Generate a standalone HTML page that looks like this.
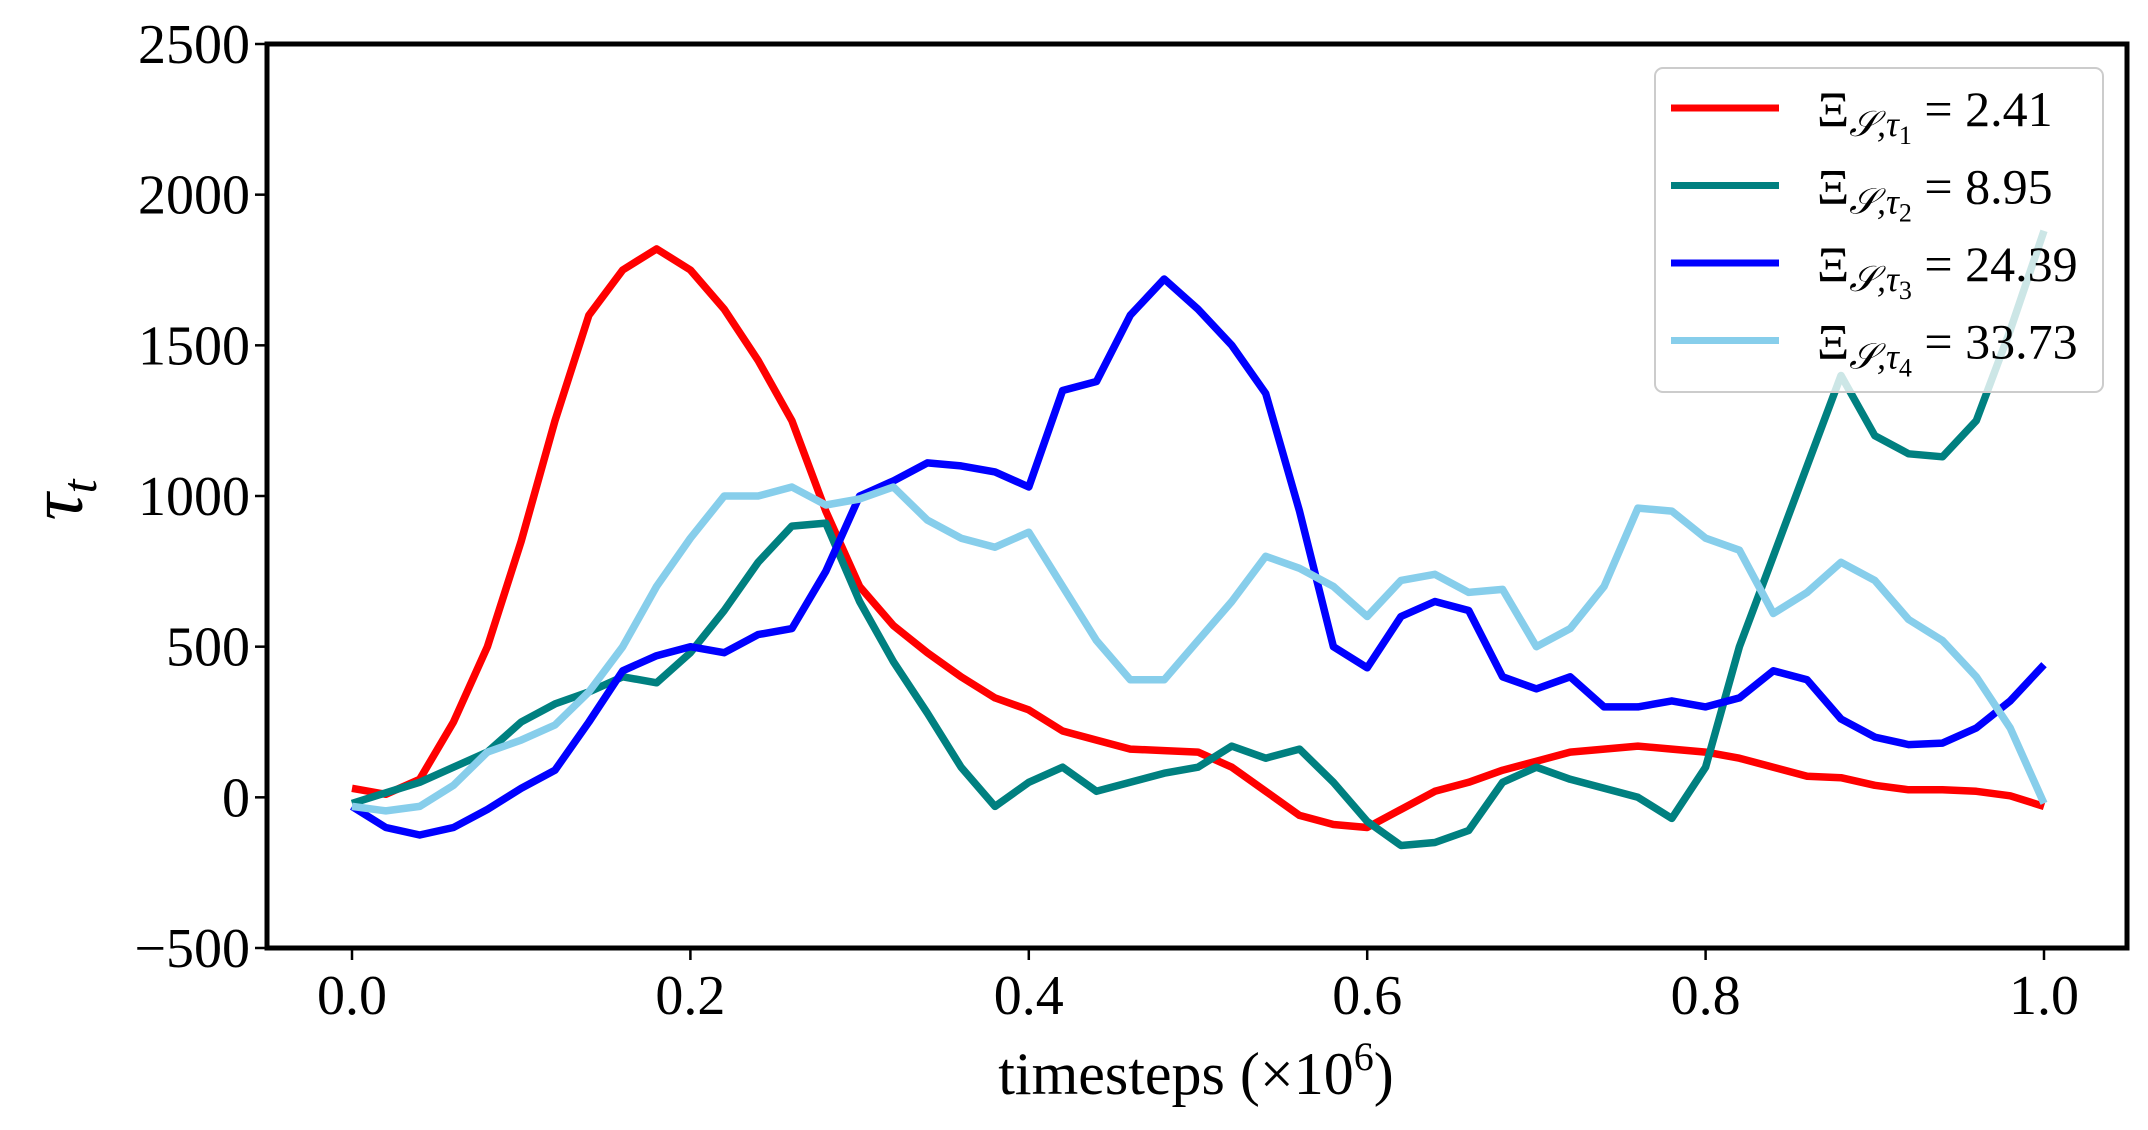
<!DOCTYPE html>
<html><head><meta charset="utf-8"><style>
html,body{margin:0;padding:0;background:#fff;}
svg{display:block;font-family:"Liberation Serif",serif;}
</style></head><body>
<svg id="chart" width="2148" height="1130" viewBox="0 0 2148 1130" xmlns="http://www.w3.org/2000/svg">
<rect x="0" y="0" width="2148" height="1130" fill="#fff"/>
<g id="series"></g>
<rect x="267" y="44" width="1860" height="904" fill="none" stroke="#000" stroke-width="5"/>
<g id="ticks"></g>
<text x="1196" y="1094" font-size="60" text-anchor="middle">timesteps (×10<tspan font-size="40" dy="-24">6</tspan><tspan dy="24">)</tspan></text>
<text x="0" y="0" font-size="76" font-style="italic" text-anchor="middle" transform="translate(82,500) rotate(-90)">τ<tspan font-size="50" dy="14">t</tspan></text>
<g id="legend">
<rect x="1655" y="68" width="448" height="324" rx="8" fill="#fff" fill-opacity="0.8" stroke="#ccc" stroke-width="2"/>
</g>
</svg>
<script>
const tVals=[0,0.02,0.04,0.06,0.08,0.1,0.12,0.14,0.16,0.18,0.2,0.22,0.24,0.26,0.28,0.3,0.32,0.34,0.36,0.38,0.4,0.42,0.44,0.46,0.48,0.5,0.52,0.54,0.56,0.58,0.6,0.62,0.64,0.66,0.68,0.7,0.72,0.74,0.76,0.78,0.8,0.82,0.84,0.86,0.88,0.9,0.92,0.94,0.96,0.98,1.0];
const redVals=[30,10,60,250,500,850,1250,1600,1750,1820,1750,1620,1450,1250,950,700,570,480,400,330,290,220,190,160,155,150,100,20,-60,-90,-100,-40,20,50,90,120,150,160,170,160,150,130,100,70,65,40,25,25,20,5,-30];
const tealVals=[-20,15,50,100,150,250,310,350,400,380,480,620,780,900,910,650,450,280,100,-30,50,100,20,50,80,100,170,130,160,50,-80,-160,-150,-110,50,100,60,30,0,-70,100,500,800,1100,1400,1200,1140,1130,1250,1550,1880];
const blueVals=[-30,-100,-125,-100,-40,30,90,250,420,470,500,480,540,560,750,1000,1050,1110,1100,1080,1030,1350,1380,1600,1720,1620,1500,1340,950,500,430,600,650,620,400,360,400,300,300,320,300,330,420,390,260,200,175,180,230,320,440];
const lightVals=[-30,-45,-30,40,150,190,240,350,500,700,860,1000,1000,1030,970,990,1030,920,860,830,880,700,520,390,390,520,650,800,760,700,600,720,740,680,690,500,560,700,960,950,860,820,610,680,780,720,590,520,400,230,-20];
const seriesColors=["#ff0000","#008080","#0000ff","#87ceeb"];
const seriesNames=["series-tau1","series-tau2","series-tau3","series-tau4"];
const legendLabels=["2.41","8.95","24.39","33.73"];
const xTicks=[0,0.2,0.4,0.6,0.8,1.0];
const xTickLabels=["0.0","0.2","0.4","0.6","0.8","1.0"];
const yTicks=[-500,0,500,1000,1500,2000,2500];
const yTickLabels=["−500","0","500","1000","1500","2000","2500"];
const NS="http://www.w3.org/2000/svg";
function xs(t){return 352+t*(2044-352);}
function ys(v){return 948-(v+500)*(904/3000);}
const series=[redVals,tealVals,blueVals,lightVals];
const sg=document.getElementById('series');
series.forEach((vals,i)=>{
  const p=document.createElementNS(NS,'path');
  let d='';
  vals.forEach((v,j)=>{d+=(j?'L':'M')+xs(tVals[j]).toFixed(1)+','+ys(v).toFixed(1);});
  p.setAttribute('d',d);
  p.setAttribute('fill','none');
  p.setAttribute('stroke',seriesColors[i]);
  p.setAttribute('stroke-width','7.5');
  p.setAttribute('stroke-linejoin','round');
  
  
  sg.appendChild(p);
});
const tg=document.getElementById('ticks');
xTicks.forEach((t,i)=>{
  const l=document.createElementNS(NS,'line');
  l.setAttribute('x1',xs(t));l.setAttribute('x2',xs(t));l.setAttribute('y1',948);l.setAttribute('y2',960);
  l.setAttribute('stroke','#000');l.setAttribute('stroke-width','2.5');
  
  
  tg.appendChild(l);
  const tx=document.createElementNS(NS,'text');
  tx.setAttribute('x',xs(t));tx.setAttribute('y',1014);tx.setAttribute('font-size','56');tx.setAttribute('text-anchor','middle');
  tx.textContent=xTickLabels[i];
  
  
  tg.appendChild(tx);
});
yTicks.forEach((v,i)=>{
  const l=document.createElementNS(NS,'line');
  l.setAttribute('x1',255);l.setAttribute('x2',267);l.setAttribute('y1',ys(v));l.setAttribute('y2',ys(v));
  l.setAttribute('stroke','#000');l.setAttribute('stroke-width','2.5');
  
  
  tg.appendChild(l);
  const tx=document.createElementNS(NS,'text');
  tx.setAttribute('x',250);tx.setAttribute('y',ys(v)+19);tx.setAttribute('font-size','56');tx.setAttribute('text-anchor','end');
  tx.textContent=yTickLabels[i];
  
  
  tg.appendChild(tx);
});
const lg=document.getElementById('legend');
legendLabels.forEach((lab,i)=>{
  const y=108+i*77.5;
  const l=document.createElementNS(NS,'line');
  l.setAttribute('x1',1671);l.setAttribute('x2',1779);l.setAttribute('y1',y);l.setAttribute('y2',y);
  l.setAttribute('stroke',seriesColors[i]);l.setAttribute('stroke-width','7');
  
  
  lg.appendChild(l);
  const tx=document.createElementNS(NS,'text');
  tx.setAttribute('x',1817);tx.setAttribute('y',y+18);tx.setAttribute('font-size','50');
  tx.innerHTML='Ξ<tspan font-style="italic" font-size="36" dy="10">𝒮,τ</tspan><tspan font-size="26" dy="8">'+(i+1)+'</tspan><tspan dy="-18"> = '+lab+'</tspan>';
  
  
  lg.appendChild(tx);
});
</script>
</body></html>
